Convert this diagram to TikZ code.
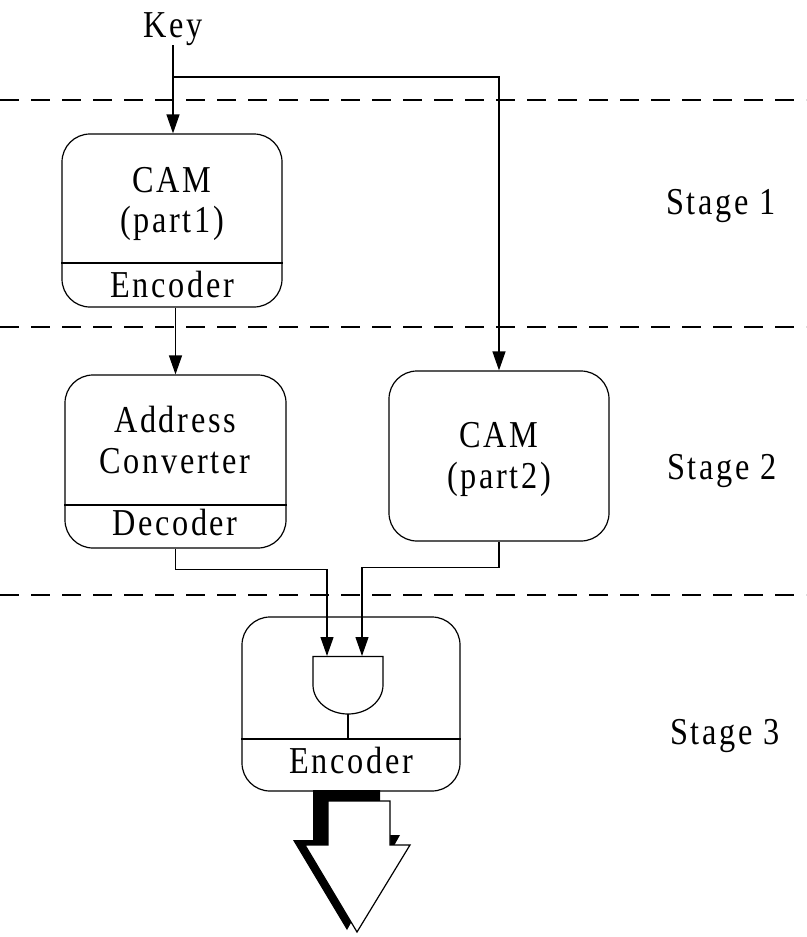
\documentclass[tikz,border=0pt]{standalone}
\usepackage{fontspec}
\setmainfont{Liberation Serif}[FakeStretch=0.85,LetterSpace=7]
\usetikzlibrary{arrows.meta}
\newcommand{\lblfont}{\fontsize{38}{40}\selectfont}
\tikzset{
  x=1pt,y=-1pt,
  wire/.style={line width=1.2pt},
  arr/.style={wire,-{Triangle[length=19pt,width=13pt]}},
  stageline/.style={line width=1.2pt,dash pattern=on 19pt off 12pt},
  blockbox/.style={draw,line width=1.2pt,rounded corners=28pt,inner sep=0pt},
  lbl/.style={font=\lblfont,inner sep=0pt,anchor=base},
}
\begin{document}
\begin{tikzpicture}
\useasboundingbox (0,0) rectangle (806,937);
% stage separators
\draw[stageline] (0,100) -- (806,100);
\draw[stageline] (0,327) -- (806,327);
\draw[stageline] (0,595) -- (806,595);
% blocks
\node[blockbox,minimum width=220pt,minimum height=173pt] (cam1) at (172,220.5) {};
\node[blockbox,minimum width=221pt,minimum height=173pt] (addr) at (175.5,461.5) {};
\node[blockbox,minimum width=220pt,minimum height=170pt] (cam2) at (499,456) {};
\node[blockbox,minimum width=218pt,minimum height=174pt] (enc) at (351,704) {};
% dividers
\draw[wire] (cam1.west |- 0,263) -- (cam1.east |- 0,263);
\draw[wire] (addr.west |- 0,505) -- (addr.east |- 0,505);
\draw[wire] (enc.west |- 0,739) -- (enc.east |- 0,739);
% labels
\node[lbl] (key) at (173,37) {Key};
\node[lbl] (c1a) at (172,192) {CAM};
\node[lbl] (c1b) at (172,232) {(part1)};
\node[lbl] (c1c) at (172,297) {Encoder};
\node[lbl] (a1) at (175,432) {Address};
\node[lbl] (a2) at (175,473) {Converter};
\node[lbl] (a3) at (175,535) {Decoder};
\node[lbl] (c2a) at (499,447) {CAM};
\node[lbl] (c2b) at (499,488) {(part2)};
\node[lbl] (e1) at (351,773) {Encoder};
\node[lbl] (s1) at (721,214) {Stage 1};
\node[lbl] (s2) at (722,479) {Stage 2};
\node[lbl] (s3) at (725,744) {Stage 3};
% AND gate
\coordinate (gin1) at (327,656);
\coordinate (gin2) at (362,656);
\coordinate (gout) at (348,714);
\draw[wire] (313,685) -- (313,656.5) -- (383,656.5) -- (383,685)
  .. controls (383,701) and (367.3,714) .. (gout)
  .. controls (328.7,714) and (313,701) .. (313,685) -- cycle;
\draw[wire] (gout) -- (gout |- 0,739);
% connectors
\coordinate (br) at (173,77);
\draw[arr] (key.south) -- (key.south |- cam1.north);
\draw[wire] (br) -| (cam2.north |- 0,120);
\draw[arr] (cam2.north |- 0,110) -- (cam2.north);
\draw[arr] (addr.north |- cam1.south) -- (addr.north);
\draw[arr] (addr.south) -- ++(0,21) -| (gin1);
\draw[arr] (cam2.south) -- ++(0,26) -| (gin2);
% big output arrow (shadow + outline)
\fill[black] (313,790) -- (380,790) -- (380,835) -- (400,835) -- (347,930) -- (293,840) -- (313,840) -- cycle;
\draw[line width=1.2pt,fill=white] (328,801) -- (390,801) -- (390,845) -- (410,845) -- (357,932) -- (305,845) -- (328,845) -- cycle;
\end{tikzpicture}
\end{document}
